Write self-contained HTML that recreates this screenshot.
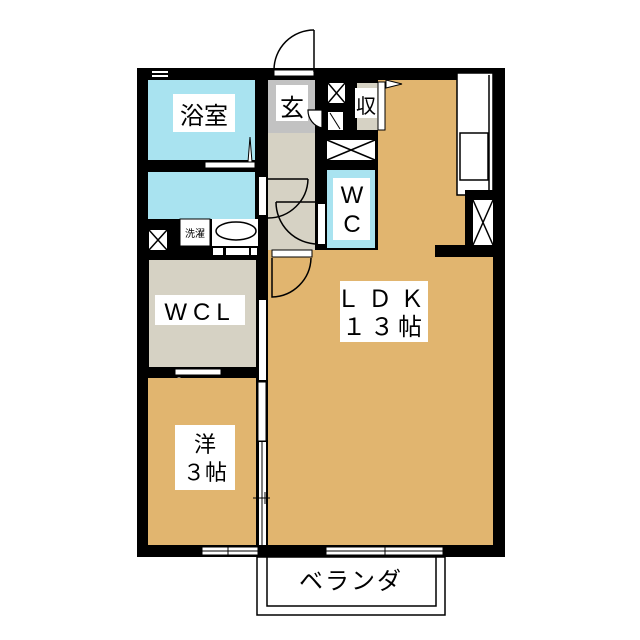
<!DOCTYPE html>
<html><head><meta charset="utf-8"><style>
body{margin:0;background:#fff}
svg{display:block}
text{font-family:"Liberation Sans","Noto Sans CJK JP",sans-serif;}
</style></head><body>
<svg width="640" height="640" viewBox="0 0 640 640" xmlns="http://www.w3.org/2000/svg">
<rect width="640" height="640" fill="#fff"/>
<rect x="137" y="68" width="368" height="489" fill="#000"/>
<rect x="268" y="80" width="225" height="465" fill="#e1b56f"/>
<rect x="315" y="80" width="63" height="170" fill="#000"/>
<!-- kitchen counter -->
<rect x="457" y="73" width="36" height="122" fill="#fff"/>
<rect x="457" y="73" width="36" height="122" fill="none" stroke="#000" stroke-width="1.5"/>
<rect x="460" y="133" width="28" height="47" fill="#fff" stroke="#000" stroke-width="1.5"/>
<line x1="489" y1="75" x2="489" y2="190" stroke="#000" stroke-width="1.5"/>
<rect x="465" y="190" width="28" height="60" fill="#000"/>
<rect x="473" y="200" width="20" height="45" fill="#fff"/>
<path d="M473 200 L493 245 M493 200 L473 245" stroke="#000" stroke-width="1.5"/>
<rect x="435" y="245" width="60" height="12" fill="#000"/>
<!-- hall -->
<rect x="268" y="80" width="47" height="170" fill="#d6d2c4"/>
<rect x="268" y="80" width="47" height="53" fill="#c2c2c2"/>
<rect x="276" y="85" width="32" height="36" fill="#fff"/>
<text x="292" y="116" font-size="24" text-anchor="middle">玄</text>
<rect x="328" y="83" width="17" height="20" fill="#fff"/>
<path d="M328 83 L345 103 M345 83 L328 103" stroke="#000" stroke-width="1.5"/>
<rect x="357" y="83" width="21" height="47" fill="#d6d2c4"/>
<rect x="355" y="88" width="22" height="30" fill="#fff"/>
<text x="366" y="113" font-size="20" text-anchor="middle">収</text>
<rect x="378" y="82" width="7" height="48" fill="#fff" stroke="#000" stroke-width="1"/>
<path d="M386 80 L402 84 L386 88 Z" fill="#fff" stroke="#000"/>
<rect x="328" y="112" width="15" height="18" fill="#fff"/>
<path d="M330 113 L340 129" stroke="#000"/>
<path d="M308 110 A18 18 0 0 0 322 128 L322 110 Z" fill="#fff" stroke="#000" stroke-width="1.2"/>
<rect x="327" y="140" width="48" height="20" fill="#fff"/>
<path d="M327 140 L375 160 M375 140 L327 160" stroke="#000" stroke-width="1.5"/>
<rect x="327" y="170" width="48" height="78" fill="#a9e3f0"/>
<rect x="333" y="178" width="37" height="62" fill="#fff"/>
<text x="352" y="203" font-size="24" text-anchor="middle">W</text>
<text x="352" y="232" font-size="24" text-anchor="middle">C</text>
<!-- top entrance door -->
<rect x="274" y="70" width="40" height="6" fill="#fff" stroke="#000"/>
<path d="M314 30 A40 40 0 0 0 274 70" fill="none" stroke="#000" stroke-width="1.5"/>
<line x1="314" y1="30" x2="314" y2="72" stroke="#000" stroke-width="1.5"/>
<!-- hall doors -->
<path d="M308 179 A40 40 0 0 1 268 218" fill="none" stroke="#000" stroke-width="1.5"/>
<line x1="268" y1="179" x2="308" y2="179" stroke="#000" stroke-width="1.5"/>
<rect x="259" y="177" width="7" height="38" fill="#fff"/>
<path d="M276 202 A42 42 0 0 0 318 244" fill="none" stroke="#000" stroke-width="1.5"/>
<line x1="276" y1="202" x2="318" y2="202" stroke="#000" stroke-width="1.5"/>
<rect x="318" y="204" width="7" height="40" fill="#fff"/>
<rect x="272" y="250" width="40" height="7" fill="#fff" stroke="#000"/>
<path d="M311 258 A40 40 0 0 1 272 297 L272 258" fill="none" stroke="#000" stroke-width="1.5"/>
<!-- bath -->
<rect x="148" y="80" width="107" height="80" fill="#a9e3f0"/>
<rect x="173" y="94" width="62" height="38" fill="#fff"/>
<text x="204" y="124" font-size="24" text-anchor="middle">浴室</text>
<rect x="152" y="71" width="16" height="2" fill="#fff"/><rect x="152" y="75" width="16" height="2" fill="#fff"/>
<rect x="205" y="162" width="50" height="6" fill="#fff" stroke="#000"/>
<path d="M248 162 L250 137 L252 162 Z" fill="#fff" stroke="#000"/>
<rect x="148" y="172" width="107" height="47" fill="#a9e3f0"/>
<rect x="149" y="230" width="18" height="20" fill="#fff"/>
<path d="M149 230 L167 250 M167 230 L149 250" stroke="#000" stroke-width="1.5"/>
<rect x="180" y="219" width="30" height="27" fill="#fff" stroke="#000"/>
<text x="195" y="237" font-size="10" text-anchor="middle">洗濯</text>
<rect x="212" y="219" width="46" height="27" fill="#fff"/>
<ellipse cx="236" cy="231" rx="20" ry="9" fill="#fff" stroke="#000" stroke-width="1.5"/>
<rect x="213" y="248" width="10" height="7" fill="#fff"/><rect x="226" y="248" width="23" height="7" fill="#fff"/><rect x="251" y="248" width="6" height="7" fill="#fff"/>
<!-- WCL -->
<rect x="149" y="260" width="107" height="107" fill="#d6d2c4"/>
<rect x="155" y="295" width="90" height="30" fill="#fff"/>
<text x="200" y="320" font-size="24" text-anchor="middle" letter-spacing="6">WCL</text>
<rect x="175" y="369" width="46" height="6" fill="#fff" stroke="#000"/>
<path d="M177 377 L179 400 L181 377 Z" fill="#fff" stroke="#000"/>
<!-- western room -->
<rect x="148" y="378" width="108" height="167" fill="#e1b56f"/>
<rect x="256" y="258" width="12" height="299" fill="#000"/>
<rect x="259" y="300" width="7" height="80" fill="#fff"/>
<rect x="258" y="382" width="8" height="59" fill="#fff" stroke="#000"/>
<rect x="259" y="442" width="7" height="103" fill="#fff"/>
<line x1="262" y1="442" x2="262" y2="545" stroke="#000"/>
<path d="M253 498 L270 498 M262 492 L262 504 M265 492 L265 504" stroke="#000"/>
<rect x="175" y="425" width="60" height="65" fill="#fff"/>
<text x="205" y="452" font-size="22" text-anchor="middle">洋</text>
<text x="205" y="480" font-size="22" text-anchor="middle">３帖</text>
<rect x="340" y="281" width="88" height="61" fill="#fff"/>
<text x="384" y="307" font-size="24" text-anchor="middle" letter-spacing="8">ＬＤＫ</text>
<text x="384" y="335" font-size="24" text-anchor="middle" letter-spacing="4">１３帖</text>
<rect x="202" y="547" width="56" height="8" fill="#fff" stroke="#000"/>
<line x1="202" y1="551" x2="258" y2="551" stroke="#000"/>
<line x1="228" y1="545" x2="228" y2="557" stroke="#000"/>
<rect x="326" y="547" width="117" height="8" fill="#fff" stroke="#000"/>
<line x1="326" y1="551" x2="443" y2="551" stroke="#000"/>
<line x1="385" y1="545" x2="385" y2="557" stroke="#000"/>
<rect x="257" y="557" width="188" height="58" fill="#fff" stroke="#000" stroke-width="1.5"/>
<rect x="267" y="557" width="169" height="49" fill="#fff" stroke="#000" stroke-width="1.5"/>
<text x="351" y="589" font-size="24" text-anchor="middle" letter-spacing="2">ベランダ</text>
</svg>
</body></html>
